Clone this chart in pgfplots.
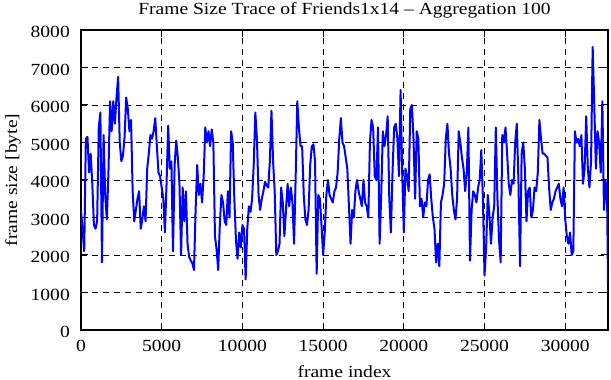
\documentclass[border=0pt]{standalone}
\usepackage{fontspec}
\setmainfont{Liberation Serif}[FakeStretch=1.15]
\usepackage{pgfplots}
\usepackage{pgfplotstable}
\pgfplotsset{compat=1.18}
\pgfplotstableread{
x y
0 3200
100 2650
200 2100
300 5100
400 5150
500 4200
600 4700
700 3900
800 2800
900 2700
1000 2900
1100 5400
1200 5800
1300 1800
1400 5200
1500 3600
1600 2950
1700 4200
1800 6100
1900 5300
2000 6100
2100 5500
2200 6200
2300 6750
2400 5000
2500 4500
2600 4650
2700 5150
2800 6200
2900 5900
3000 5300
3100 5600
3200 3700
3300 2900
3400 3200
3500 3500
3600 3700
3700 2700
3800 2950
3900 3300
4000 2900
4100 4300
4200 4700
4300 5200
4400 5100
4500 5300
4600 5650
4700 4900
4800 4200
4900 4100
5000 3800
5100 3500
5200 2600
5300 3900
5400 5450
5500 4300
5600 4500
5700 2100
5800 4400
5900 5050
6000 4600
6100 3900
6200 2000
6300 3800
6400 2900
6500 3700
6600 2300
6700 1950
6800 1850
6900 1780
7000 1600
7100 3200
7200 4400
7300 3600
7400 3900
7500 3400
7600 4100
7700 5400
7800 5000
7900 5300
8000 4900
8100 5350
8200 5000
8300 2500
8400 2150
8500 1600
8600 2800
8700 3600
8800 3400
8900 2900
9000 2800
9100 3700
9200 3000
9300 5300
9400 5000
9500 3500
9600 2400
9700 1900
9800 2600
9900 2200
10000 2800
10100 2700
10200 1350
10300 2700
10400 3300
10500 3150
10600 3500
10700 4400
10800 5800
10900 5100
11000 3600
11100 3200
11200 3500
11300 3700
11400 3950
11500 3850
11600 3800
11700 4500
11800 5850
11900 4500
12000 3700
12100 2000
12200 2100
12300 2300
12400 3800
12500 3400
12600 2500
12700 3200
12800 3900
12900 3300
13000 3800
13100 3400
13200 2300
13300 4100
13400 6100
13500 5400
13600 4900
13700 4900
13800 3600
13900 2950
14000 2800
14100 3200
14200 4400
14300 4900
14400 4950
14500 4500
14600 1500
14700 3600
14800 3500
14900 2800
15000 2000
15100 2600
15200 3600
15300 4000
15400 3600
15500 3500
15600 3400
15700 3700
15800 3800
15900 4200
16000 5100
16100 5650
16200 5000
16300 4900
16400 4600
16500 4300
16600 3300
16700 2300
16800 3200
16900 3000
17000 3700
17100 4000
17200 3700
17300 3500
17400 3300
17500 4000
17600 3400
17700 3300
17800 3000
17900 5000
18000 5600
18100 5400
18200 4100
18300 4000
18400 5400
18500 2300
18600 3600
18700 5300
18800 4900
18900 5200
19000 5700
19100 3500
19200 2600
19300 4200
19400 5400
19500 5500
19600 5100
19700 4100
19800 6400
19900 4200
20000 2600
20100 4300
20200 4100
20300 3700
20400 5900
20500 6000
20600 5100
20700 3500
20800 5300
20900 5100
21000 3300
21100 3500
21200 3000
21300 3400
21400 3300
21500 4000
21600 4150
21700 3500
21800 3000
21900 2700
22000 1800
22100 2300
22200 1700
22300 3400
22400 3600
22500 3900
22600 5100
22700 5500
22800 4700
22900 4300
23000 3600
23100 3200
23200 2950
23300 3500
23400 5300
23500 5000
23600 4600
23700 4300
23800 3700
23900 4200
24000 5400
24100 1850
24200 3200
24300 3700
24400 3600
24500 3400
24600 3800
24700 4000
24800 4800
24900 3500
25000 1450
25100 2200
25200 3600
25300 3100
25400 2300
25500 3000
25600 3300
25700 5400
25800 3500
25900 2400
26000 1800
26100 5200
26200 5000
26300 5400
26400 4700
26500 3900
26600 3600
26700 4000
26800 3900
26900 5000
27000 5500
27100 4000
27200 1700
27300 4700
27400 5000
27500 4300
27600 2900
27700 3700
27800 3800
27900 3000
28000 3200
28100 3800
28200 3700
28300 4200
28400 5600
28500 5100
28600 4700
28700 4700
28800 4650
28900 4600
29000 3800
29100 3200
29200 3400
29300 3500
29400 3700
29500 3800
29600 3900
29700 3500
29800 3300
29900 3800
30000 2950
30100 2500
30200 2300
30300 2600
30400 2000
30500 2100
30600 5300
30700 5000
30800 5100
30900 4900
31000 5200
31100 3900
31200 4300
31300 5700
31400 4300
31500 3800
31600 4500
31700 7550
31800 6000
31900 4300
32000 5300
32100 5000
32200 4200
32300 6100
32400 3200
32500 4000
32600 3300
32650 1250
}\tracedata
\begin{document}
\begin{tikzpicture}[x=1pt,y=1pt]
\path[use as bounding box] (-81,-50) rectangle (530,330);
\begin{axis}[
  at={(0,0)}, anchor=south west,
  scale only axis, width=527pt, height=300pt,
  xmin=0, xmax=32650, ymin=0, ymax=8000,
  xtick={0,5000,10000,15000,20000,25000,30000},
  ytick={0,1000,2000,3000,4000,5000,6000,7000,8000},
  scaled ticks=false,
  /pgf/number format/1000 sep={},
  /pgf/number format/assume math mode=true,
  tick label style={font=\fontsize{17}{20}\selectfont, inner sep=0pt},
  xticklabel style={anchor=base, yshift=-22pt},
  yticklabel style={anchor=east, xshift=-11pt, yshift=-2pt},
  label style={font=\fontsize{17}{20}\selectfont, inner sep=0pt},
  xlabel={frame index},
  xlabel style={at={(axis description cs:0.5,-0.1567)}, anchor=base},
  ylabel={frame size [byte]},
  ylabel style={at={(axis description cs:-0.1214,0.5)}, anchor=base},
  tick align=inside, major tick length=7pt,
  tick style={black, line width=1pt},
  axis line style={black, line width=1.5pt},
  grid=major,
  major grid style={black, line width=0.8pt, dash pattern=on 6pt off 5pt},
]
\addplot[color={rgb,255:red,0;green,0;blue,255}, line width=2pt, mark=none, line join=round] table[x=x,y=y] {\tracedata};
\end{axis}
\node[anchor=base, font=\fontsize{17}{20}\selectfont, inner sep=0pt] at (263.5,315) {Frame Size Trace of Friends1x14 -- Aggregation 100};
\end{tikzpicture}
\end{document}
